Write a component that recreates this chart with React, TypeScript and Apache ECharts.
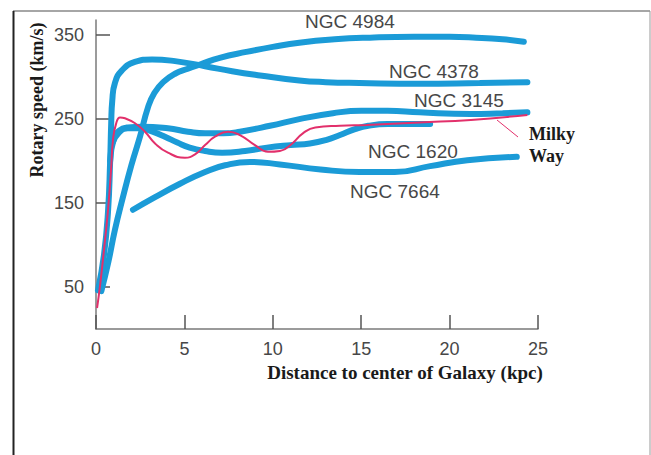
import React, { useEffect, useRef } from "react";
import * as echarts from "echarts";

// Rotation curves: [distance kpc, speed km/s]
const ngc4984: [number, number][] = [
  [0.3, 45], [0.7, 80], [1.07, 118], [1.5, 155], [2.0, 195], [2.5, 230], [2.94, 264], [3.3, 281],
  [3.8, 294], [4.47, 304], [5.2, 310], [5.88, 315], [7, 323], [8.5, 330], [10, 336], [11.5, 341],
  [13.5, 345], [15.5, 347], [18, 348], [20, 348], [21.5, 347], [23, 345], [24.2, 342],
];
const ngc4378: [number, number][] = [
  [0.11, 46], [0.45, 88], [0.68, 140], [0.8, 200], [0.86, 245], [0.92, 272], [1.07, 293],
  [1.47, 308], [2.2, 318], [3.17, 321], [4.47, 319], [6.17, 313], [7.7, 307],
  [9.28, 302], [11.5, 296], [13, 294], [14.9, 293], [18.3, 292], [21.7, 293], [24.4, 294],
];
const ngc3145: [number, number][] = [
  [0.8, 200], [1.0, 226], [1.3, 236], [1.8, 240], [2.6, 241], [4.07, 239], [5.2, 235],
  [6.17, 233], [7.2, 233], [8.14, 235], [9.84, 242], [11.5, 250], [13.4, 257], [15, 260],
  [16.5, 260], [18.3, 258], [21.2, 256], [23, 257], [24.4, 258],
];
const ngc1620: [number, number][] = [
  [0.95, 222], [1.3, 234], [1.8, 239], [2.5, 239], [3.2, 235], [3.9, 229], [4.6, 222],
  [5.3, 216], [6.17, 212], [7.13, 210], [8.43, 212], [9.67, 216], [11, 219], [12.1, 221],
  [13.0, 225], [13.8, 231], [14.65, 238], [15.4, 242], [16.5, 244], [18.9, 244],
];
const ngc7664: [number, number][] = [
  [2.09, 142], [3.34, 157], [4.75, 173], [6.17, 187], [7.3, 195], [8.71, 199], [10.4, 196],
  [12.7, 190], [14.9, 187], [16.9, 187], [18.9, 194], [21.0, 201], [23.8, 205],
];
const milkyWay: [number, number][] = [
  [0.06, 25], [0.23, 52], [0.45, 94], [0.68, 142], [0.85, 189], [0.96, 225], [1.13, 244],
  [1.36, 252], [1.64, 251], [2.21, 245], [2.77, 235], [3.34, 221], [4.07, 210], [5.03, 204],
  [5.6, 208], [6.17, 219], [6.73, 229], [7.47, 235], [8.14, 231], [8.99, 219], [9.73, 211],
  [10.4, 212], [11.1, 221], [11.7, 233], [12.4, 240], [13.8, 242], [15.3, 243], [18.3, 246],
  [21.2, 249], [24.4, 255],
];

const yTickValues = [50, 150, 250, 350];
const xTickInterval = 5;

const seriesNames = ["NGC 4984", "NGC 4378", "NGC 3145", "NGC 1620", "NGC 7664", "Milky Way"];

const BLUE = "#1b9bd7";
const PINK = "#e2306b";
const AXIS = "#7a7a7a";
const LABEL = "#474747";

export default function App() {
  const ref = useRef<HTMLDivElement>(null);
  useEffect(() => {
    if (!ref.current) return;
    const chart = echarts.init(ref.current, undefined, { renderer: "svg" });
    const blueLine = (name: string, data: [number, number][]) => ({
      name,
      type: "line",
      data,
      smooth: true,
      showSymbol: false,
      lineStyle: { color: BLUE, width: 6, cap: "round" },
      z: 2,
    });
    const labelFont = { fontFamily: "Liberation Sans, Arial, sans-serif", fontSize: 19, fill: LABEL };
    const serifBold = { fontFamily: "Liberation Serif, Times New Roman, serif", fontWeight: "bold", fill: "#1a1a1a" };
    chart.setOption({
      animation: false,
      backgroundColor: "#ffffff",
      grid: { left: 96, right: 113, top: 20, bottom: 126 },
      xAxis: {
        type: "value",
        min: 0,
        max: 25,
        interval: xTickInterval,
        axisLine: { show: true, lineStyle: { color: AXIS, width: 1.5 } },
        axisTick: { show: true, inside: true, length: 14, lineStyle: { color: "#555", width: 1.5 } },
        axisLabel: { color: LABEL, fontSize: 18, fontFamily: "Liberation Sans, Arial, sans-serif", margin: 11 },
        splitLine: { show: false },
      },
      yAxis: {
        type: "value",
        min: 0,
        max: 368,
        axisLine: { show: true, lineStyle: { color: AXIS, width: 1.5 } },
        axisTick: {
          show: true,
          inside: true,
          length: 14,
          customValues: yTickValues,
          lineStyle: { color: "#555", width: 1.5 },
        },
        axisLabel: {
          color: LABEL,
          fontSize: 18,
          fontFamily: "Liberation Sans, Arial, sans-serif",
          margin: 12,
          customValues: yTickValues,
        },
        splitLine: { show: false },
      },
      series: [
        blueLine(seriesNames[0], ngc4984),
        blueLine(seriesNames[1], ngc4378),
        blueLine(seriesNames[2], ngc3145),
        blueLine(seriesNames[3], ngc1620),
        blueLine(seriesNames[4], ngc7664),
        {
          name: seriesNames[5],
          type: "line",
          data: milkyWay,
          smooth: true,
          showSymbol: false,
          lineStyle: { color: PINK, width: 2 },
          z: 3,
        },
      ],
      graphic: [
        { type: "line", shape: { x1: 13, y1: 11, x2: 650, y2: 11 }, style: { stroke: "#888", lineWidth: 1.5 } },
        { type: "line", shape: { x1: 650, y1: 11, x2: 650, y2: 455 }, style: { stroke: "#999", lineWidth: 1 } },
        { type: "line", shape: { x1: 13.5, y1: 11, x2: 13.5, y2: 455 }, style: { stroke: "#222", lineWidth: 2 } },
        { type: "text", x: 305, y: 21, style: { ...labelFont, text: seriesNames[0], textVerticalAlign: "middle" } },
        { type: "text", x: 389, y: 71, style: { ...labelFont, text: seriesNames[1], textVerticalAlign: "middle" } },
        { type: "text", x: 414, y: 100, style: { ...labelFont, text: seriesNames[2], textVerticalAlign: "middle" } },
        { type: "text", x: 368, y: 151, style: { ...labelFont, text: seriesNames[3], textVerticalAlign: "middle" } },
        { type: "text", x: 350, y: 191, style: { ...labelFont, text: seriesNames[4], textVerticalAlign: "middle" } },
        { type: "line", shape: { x1: 497, y1: 120, x2: 518, y2: 137 }, style: { stroke: PINK, lineWidth: 1 } },
        { type: "text", x: 529, y: 134, style: { ...serifBold, fontSize: 18, text: "Milky", textVerticalAlign: "middle" } },
        { type: "text", x: 529, y: 156, style: { ...serifBold, fontSize: 18, text: "Way", textVerticalAlign: "middle" } },
        {
          type: "text",
          x: 405,
          y: 372,
          style: { ...serifBold, fontSize: 19, text: "Distance to center of Galaxy (kpc)", textAlign: "center", textVerticalAlign: "middle" },
        },
        {
          type: "text",
          x: 37,
          y: 100,
          rotation: Math.PI / 2,
          style: { ...serifBold, fontSize: 18, text: "Rotary speed (km/s)", textAlign: "center", textVerticalAlign: "middle" },
        },
      ],
    });
    return () => chart.dispose();
  }, []);
  return <div ref={ref} style={{ width: 651, height: 455, position: "absolute", left: 0, top: 0 }} />;
}
